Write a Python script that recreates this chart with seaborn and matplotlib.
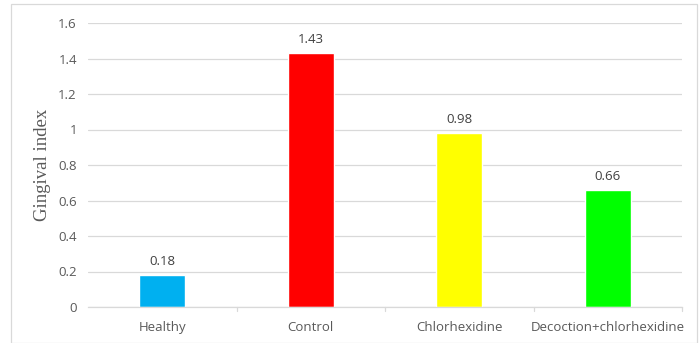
import matplotlib
matplotlib.use("Agg")
import matplotlib.pyplot as plt
from matplotlib.patches import Rectangle
import seaborn as sns
import pandas as pd

# Gingival index by treatment group
groups = ["Healthy", "Control", "Chlorhexidine", "Decoction+chlorhexidine"]
gingival_index = [0.18, 1.43, 0.98, 0.66]
bar_colors = ["#00B0F0", "#FF0000", "#FFFF00", "#00FF00"]
y_ticks = [0, 0.2, 0.4, 0.6, 0.8, 1, 1.2, 1.4, 1.6]
y_tick_labels = ["0", "0.2", "0.4", "0.6", "0.8", "1", "1.2", "1.4", "1.6"]

df = pd.DataFrame({"group": groups, "value": gingival_index})

sns.set_theme(style="white")
plt.rcParams["font.family"] = ["Open Sans", "DejaVu Sans"]

W, H = 700, 343
fig = plt.figure(figsize=(W / 100, H / 100), dpi=100)
ax = fig.add_axes([88 / W, 1 - 307 / H, (682 - 88) / W, (307 - 23) / H])

sns.barplot(data=df, x="group", y="value", hue="group", palette=bar_colors,
            width=0.31, legend=False, ax=ax, saturation=1)

text_color = "#595959"
ax.set_ylim(0, 1.6)
ax.set_xlim(-0.5, len(groups) - 0.5)
ax.set_yticks(y_ticks)
ax.set_yticklabels(y_tick_labels, fontsize=9.5, color=text_color)
ax.tick_params(axis="y", length=0, pad=8)
ax.yaxis.grid(True, color="#D9D9D9", linewidth=0.9)
ax.set_axisbelow(True)

# category labels, with small ticks at the category boundaries
ax.set_xticks(range(len(groups)))
ax.set_xticklabels(groups, fontsize=9.5, color=text_color)
ax.tick_params(axis="x", length=0, pad=10)
for b in [0.5, 1.5, 2.5, 3.5]:
    ax.plot([b, b], [0, -0.025], color="#D9D9D9", lw=0.9, clip_on=False)
ax.set_xlabel("")

for s in ["top", "right", "left"]:
    ax.spines[s].set_visible(False)
ax.spines["bottom"].set_color("#D9D9D9")
ax.spines["bottom"].set_linewidth(0.9)

ax.set_ylabel("Gingival index", family=["Liberation Serif"], fontsize=13.5,
              color="#595959", labelpad=5)

# value labels above each bar
for container in ax.containers:
    ax.bar_label(container, fmt="%.2f", padding=5, fontsize=9.5, color="#404040")

# chart frame
fig.patches.append(Rectangle((11 / W, 0), (697 - 11) / W, 1 - 4 / H,
                             transform=fig.transFigure, fill=False,
                             edgecolor="#D9D9D9", linewidth=0.9))

fig.savefig("out.png", dpi=100)
